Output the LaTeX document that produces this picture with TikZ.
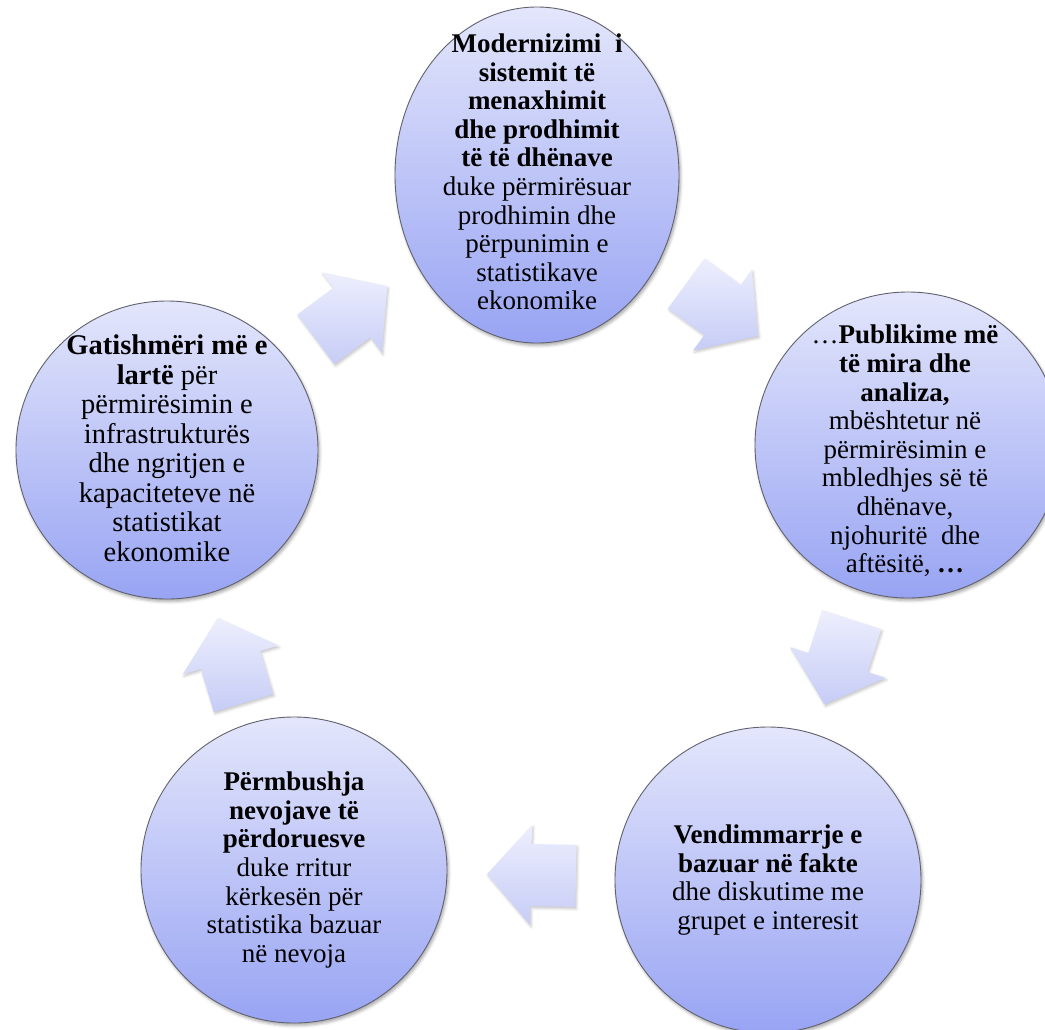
\documentclass[tikz,border=0pt]{standalone}
\usepackage{fontspec}
\setmainfont{Liberation Serif}
\usetikzlibrary{shapes.geometric,calc,shadows.blur}
\definecolor{bubtop}{HTML}{E3E6FB}
\definecolor{bubbot}{HTML}{98A4F3}
\definecolor{arrtop}{HTML}{EDEFFD}
\definecolor{arrbot}{HTML}{C6CCF6}
\definecolor{bubline}{HTML}{62626E}
\tikzset{
  bub/.style={ellipse, draw=bubline, line width=0.9pt, top color=bubtop, bottom color=bubbot,
    inner sep=0pt,
    blur shadow={shadow xshift=1.5pt, shadow yshift=-2.5pt, shadow opacity=35, shadow blur radius=3pt}},
  txt/.style={align=center, inner sep=0pt, text=black, font=\fontsize{27}{28.6}\selectfont},
  arrsty/.style={top color=arrtop, bottom color=arrbot,
    blur shadow={shadow xshift=1.2pt, shadow yshift=-2pt, shadow opacity=22, shadow blur radius=2.5pt}}
}
\newcommand\cyclearrow[2]{%
  \coordinate (m#1#2) at ($(#1)!0.5!(#2)$);
  \shade[arrsty] let \p1=($(#2)-(#1)$), \n1={atan2(\y1,\x1)}, \n2={atan2(\y1,\x1)+90} in
    ($(m#1#2)+(\n1:-45pt)+(\n2:-31pt)$) -- ($(m#1#2)+(\n2:-31pt)$) --
    ($(m#1#2)+(\n2:-50pt)$) -- ($(m#1#2)+(\n1:44pt)$) --
    ($(m#1#2)+(\n2:50pt)$) -- ($(m#1#2)+(\n2:31pt)$) --
    ($(m#1#2)+(\n1:-45pt)+(\n2:31pt)$) -- cycle;}
\begin{document}
\begin{tikzpicture}[x=1pt, y=-1pt]
\useasboundingbox (0,0) rectangle (1045,1029);
\clip (0,0) rectangle (1045,1029);
% circles
\node[bub, minimum width=284pt, minimum height=336pt] (T)  at (537,175) {};
\node[bub, minimum width=306pt, minimum height=306pt] (R)  at (908,445) {};
\node[bub, minimum width=306pt, minimum height=306pt] (BR) at (768,880) {};
\node[bub, minimum width=306pt, minimum height=306pt] (BL) at (294,870) {};
\node[bub, minimum width=302pt, minimum height=298pt] (L)  at (167,450) {};
% arrows
\cyclearrow{T}{R}
\cyclearrow{R}{BR}
\cyclearrow{BR}{BL}
\cyclearrow{BL}{L}
\cyclearrow{L}{T}
% texts
\node[txt] (tT) at ($(T)+(0,-3)$) {\textbf{Modernizimi\ \ i}\\ \textbf{sistemit të}\\ \textbf{menaxhimit}\\ \textbf{dhe prodhimit}\\ \textbf{të të dhënave}\\ duke përmirësuar\\ prodhimin dhe\\ përpunimin e\\ statistikave\\ ekonomike};
\node[txt] (tR) at ($(R)+(-3,6)$) {…\textbf{Publikime më}\\ \textbf{të mira dhe}\\ \textbf{analiza,}\\ mbështetur në\\ përmirësimin e\\ mbledhjes së të\\ dhënave,\\ njohuritë\ \ dhe\\ aftësitë, \textbf{…}};
\node[txt] (tBR) at (BR) {\textbf{Vendimmarrje e}\\ \textbf{bazuar në fakte}\\ dhe diskutime me\\ grupet e interesit};
\node[txt] (tBL) at (BL) {\textbf{Përmbushja}\\ \textbf{nevojave të}\\ \textbf{përdoruesve}\\ duke rritur\\ kërkesën për\\ statistika bazuar\\ në nevoja};
\node[txt, font=\fontsize{28.5}{29.5}\selectfont] (tL) at ($(L)+(0,-2)$) {\textbf{Gatishmëri më e}\\ \textbf{lartë} për\\ përmirësimin e\\ infrastrukturës\\ dhe ngritjen e\\ kapaciteteve në\\ statistikat\\ ekonomike};
\end{tikzpicture}
\end{document}
